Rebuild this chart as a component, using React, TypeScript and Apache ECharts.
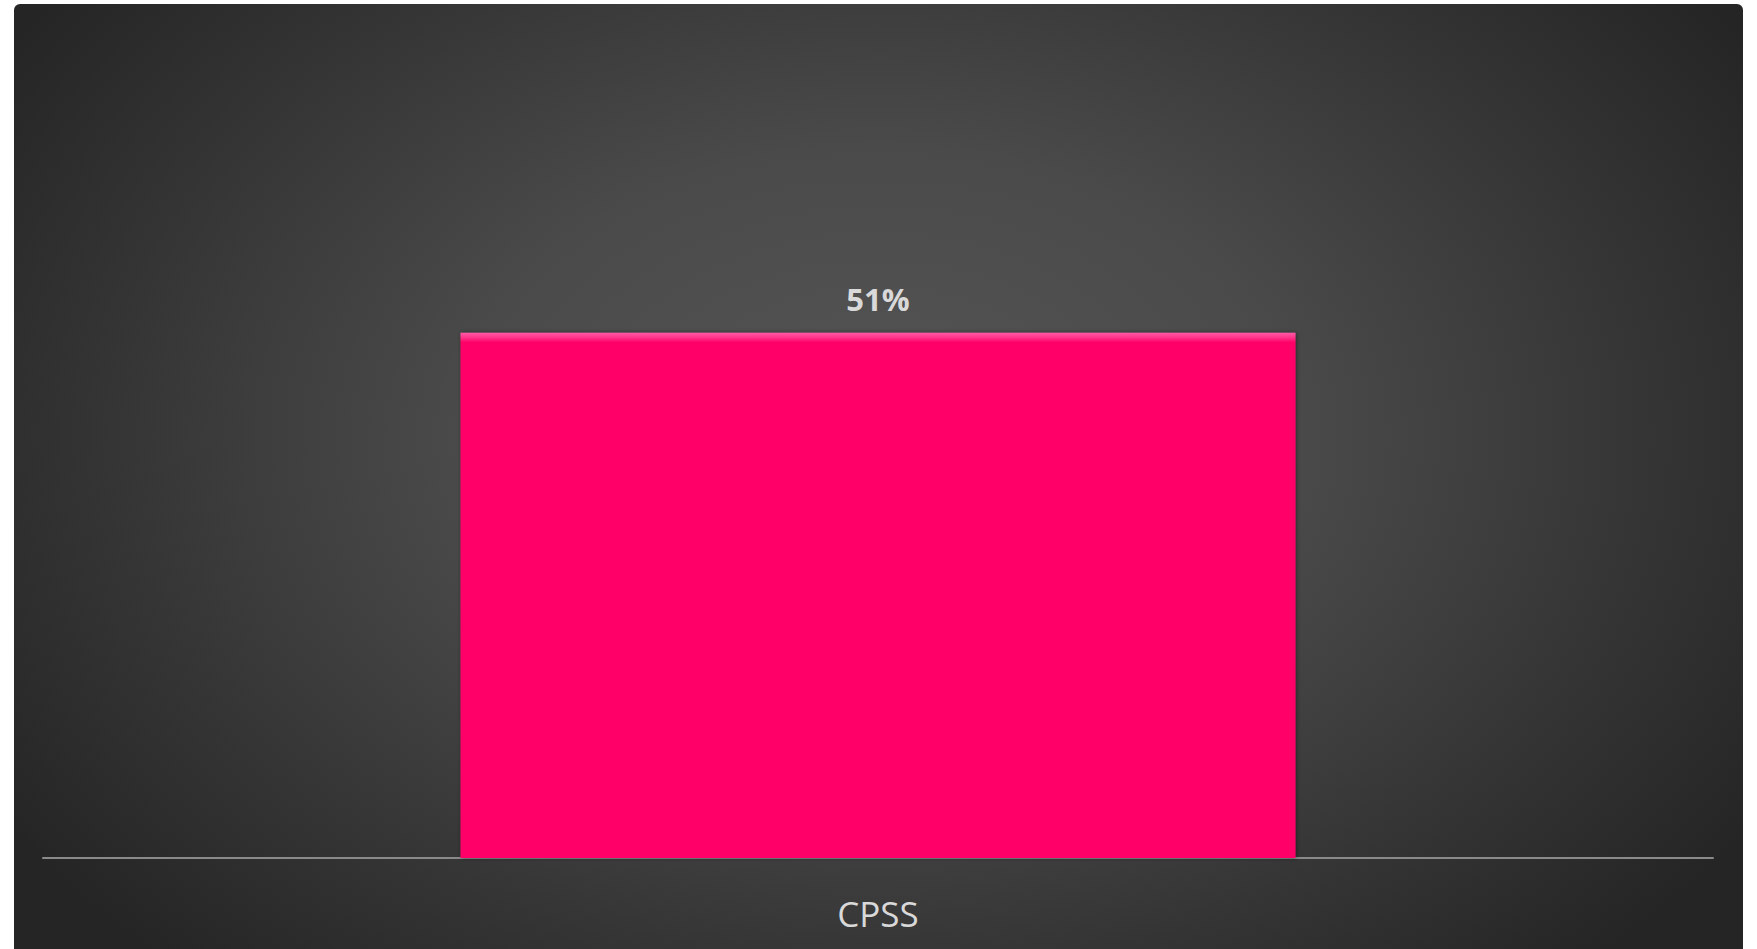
import React, { useEffect, useRef } from "react";
import * as echarts from "echarts";

const categories = ["CPSS"];
const values = [51];
const labelSuffix = "%";

export default function App() {
  const ref = useRef<HTMLDivElement>(null);
  useEffect(() => {
    if (!ref.current) return;
    const chart = echarts.init(ref.current, undefined, { renderer: "svg" });
    chart.setOption({
      animation: false,
      backgroundColor: "#ffffff",
      graphic: [
        {
          type: "rect",
          z: -10,
          silent: true,
          shape: { x: 14, y: 4, width: 1729, height: 1200, r: [6, 6, 0, 0] },
          style: {
            fill: {
              type: "radial",
              x: 0.5,
              y: 0.36,
              r: 0.6,
              colorStops: [
                { offset: 0, color: "#555555" },
                { offset: 0.4, color: "#4a4a4a" },
                { offset: 0.75, color: "#343434" },
                { offset: 1, color: "#252525" },
              ],
            },
          },
        },
      ],
      grid: { left: 43, right: 44, top: 240, bottom: 91, containLabel: false },
      xAxis: {
        type: "category",
        data: categories,
        axisLine: { show: true, lineStyle: { color: "#8a8a8a", width: 2 } },
        axisTick: { show: false },
        axisLabel: {
          color: "#d9d9d9",
          fontFamily: "Open Sans",
          fontSize: 35,
          margin: 38,
        },
      },
      yAxis: {
        type: "value",
        min: 0,
        max: 60,
        show: false,
        splitLine: { show: false },
      },
      series: [
        {
          type: "bar",
          data: values,
          barWidth: "50%",
          itemStyle: {
            color: {
              type: "linear",
              x: 0,
              y: 0,
              x2: 0,
              y2: 1,
              colorStops: [
                { offset: 0, color: "#ff5aa6" },
                { offset: 0.008, color: "#ff3a8e" },
                { offset: 0.018, color: "#ff0568" },
                { offset: 1, color: "#ff0568" },
              ],
            },
            shadowColor: "rgba(0,0,0,0.45)",
            shadowBlur: 4,
            shadowOffsetX: 1,
            shadowOffsetY: 0,
          },
          label: {
            show: true,
            position: "top",
            distance: 18,
            formatter: (p: any) => `${p.value}${labelSuffix}`,
            color: "#d9d9d9",
            fontFamily: "Open Sans",
            fontWeight: "bold",
            fontSize: 31,
          },
        },
      ],
    });
    return () => chart.dispose();
  }, []);
  return (
    <div
      ref={ref}
      style={{ position: "fixed", left: 0, top: 0, width: 1757, height: 949 }}
    />
  );
}
